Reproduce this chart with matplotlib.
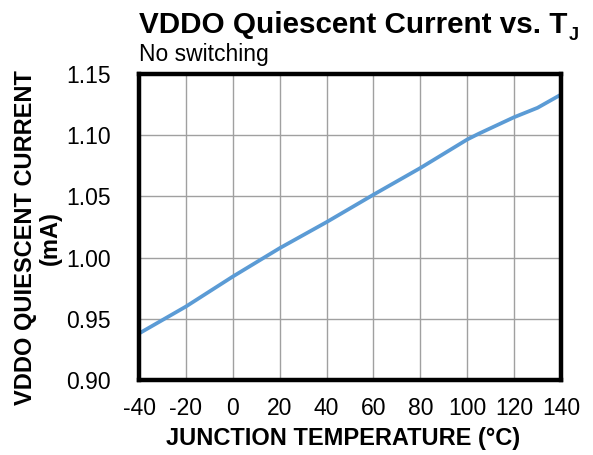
import matplotlib
matplotlib.use("Agg")
import matplotlib.pyplot as plt

plt.rcParams['font.family'] = ['Liberation Sans', 'DejaVu Sans']

temps = [-40, -20, 0, 20, 40, 60, 80, 100, 105, 120, 130, 140]
current = [0.938, 0.960, 0.9845, 1.0077, 1.029, 1.0514, 1.0732, 1.0965, 1.1013, 1.1147, 1.1224, 1.1332]
xticks = [-40, -20, 0, 20, 40, 60, 80, 100, 120, 140]
yticks = [0.90, 0.95, 1.00, 1.05, 1.10, 1.15]
ytick_labels = ["0.90", "0.95", "1.00", "1.05", "1.10", "1.15"]

W, H = 593, 455
fig = plt.figure(figsize=(W / 100, H / 100), dpi=100)
ax = fig.add_axes([139 / W, 1 - 380 / H, (561 - 139) / W, (380 - 74) / H])

ax.plot(temps, current, color='#5B9BD5', linewidth=2.7, solid_capstyle='butt', zorder=3)
ax.set_xlim(-40, 140)
ax.set_ylim(0.90, 1.15)
ax.set_xticks(xticks)
ax.set_xticklabels([str(t) for t in xticks])
ax.set_yticks(yticks)
ax.set_yticklabels(ytick_labels)
ax.grid(True, color='#a0a0a0', linewidth=1.0)
ax.set_axisbelow(True)
for s in ax.spines.values():
    s.set_linewidth(3.2)
    s.set_color('black')
    s.set_zorder(4)
ax.tick_params(axis='both', length=0, labelsize=16.5)
ax.tick_params(axis='x', pad=12)
ax.tick_params(axis='y', pad=20)

title = fig.text(139 / W, 1 - 33 / H, "VDDO Quiescent Current vs. T", fontsize=21.3,
                 fontweight='bold', ha='left', va='baseline')
fig.canvas.draw()
bb = title.get_window_extent(renderer=fig.canvas.get_renderer())
fig.text((bb.x1 + 1) / W, 1 - 40 / H, "J", fontsize=13, fontweight='bold',
         ha='left', va='baseline')
fig.text(139 / W, 1 - 55 / H, "No switching", fontsize=16.5, ha='left', va='center')
fig.text(343.5 / W, 1 - 439 / H, "JUNCTION TEMPERATURE (°C)", fontsize=17,
         fontweight='bold', ha='center', va='center')
fig.text(38 / W, 1 - 238 / H, "VDDO QUIESCENT CURRENT\n(mA)", fontsize=17,
         fontweight='bold', ha='center', va='center', rotation=90,
         multialignment='center', linespacing=1.15)

fig.savefig("out.png", dpi=100)
